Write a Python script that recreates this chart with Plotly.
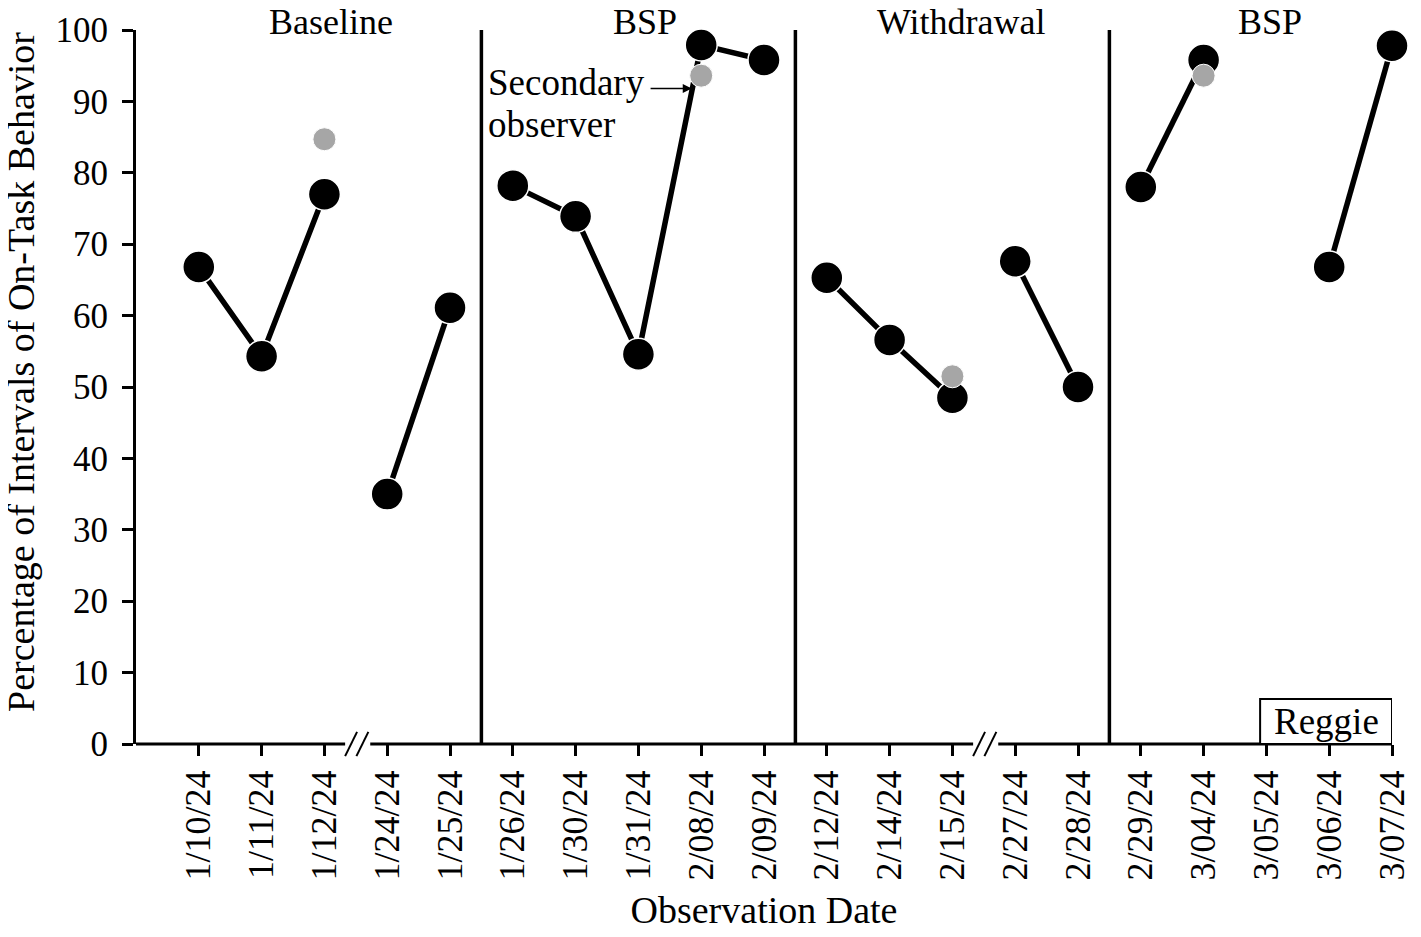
import plotly.graph_objects as go

# observation dates (categorical positions 1..20)
dates = ["1/10/24", "1/11/24", "1/12/24", "1/24/24", "1/25/24",
         "1/26/24", "1/30/24", "1/31/24", "2/08/24", "2/09/24",
         "2/12/24", "2/14/24", "2/15/24", "2/27/24", "2/28/24",
         "2/29/24", "3/04/24", "3/05/24", "3/06/24", "3/07/24"]
on_task = [66.8, 54.3, 77.0, 35.0, 61.1,
           78.2, 73.9, 54.6, 97.9, 95.8,
           65.3, 56.6, 48.5, 67.6, 50.0,
           78.0, 95.8, None, 66.8, 97.8]
secondary = [None, None, 84.7, None, None,
             None, None, None, 93.6, None,
             None, None, 51.5, None, None,
             None, 93.6, None, None, None]
# connected runs of data points
segments = [1, 1, 1, 2, 2,
            3, 3, 3, 3, 3,
            4, 4, 4, 5, 5,
            6, 6, 7, 7, 7]

phases = ["Baseline", "BSP", "Withdrawal", "BSP"]
phase_label_x = [3.1, 8.1, 13.15, 18.05]
phase_changes = [5.5, 10.5, 15.5]
axis_breaks = [3.5, 13.5]

FONT = "Liberation Serif, Times New Roman, serif"
pos = list(range(1, len(dates) + 1))
X_MAX = 20

fig = go.Figure()

# line segments
for s in sorted(set(segments)):
    xs = [p for p, g, v in zip(pos, segments, on_task) if g == s and v is not None]
    ys = [v for g, v in zip(segments, on_task) if g == s and v is not None]
    fig.add_trace(go.Scatter(x=xs, y=ys, mode="lines",
                             line=dict(color="black", width=5.5),
                             showlegend=False, hoverinfo="skip"))

fig.add_trace(go.Scatter(
    x=pos, y=on_task, mode="markers",
    marker=dict(color="black", size=32, line=dict(color="white", width=1.5)),
    showlegend=False, cliponaxis=False))

fig.add_trace(go.Scatter(
    x=pos, y=secondary, mode="markers",
    marker=dict(color="#a6a6a6", size=23, line=dict(color="white", width=1)),
    showlegend=False, cliponaxis=False))

# phase change lines
for xc in phase_changes:
    fig.add_shape(type="line", x0=xc, x1=xc, y0=0, y1=100,
                  xref="x", yref="y", line=dict(color="black", width=3.5))

# x axis line with breaks
edges = [0] + [v for b in axis_breaks for v in (b - 0.17, b + 0.23)] + [X_MAX]
for a, b in zip(edges[::2], edges[1::2]):
    fig.add_shape(type="line", x0=a / X_MAX, x1=b / X_MAX, y0=0, y1=0,
                  xref="paper", yref="paper", line=dict(color="black", width=3))
for b in axis_breaks:
    for off in (-0.12, 0.06):
        fig.add_shape(type="line", x0=(b + off - 0.05) / X_MAX, x1=(b + off + 0.14) / X_MAX,
                      y0=-0.017, y1=0.017, xref="paper", yref="paper",
                      line=dict(color="black", width=2))

# phase labels
for name, xl in zip(phases, phase_label_x):
    fig.add_annotation(x=xl, y=1.0, xref="x", yref="paper", yanchor="bottom",
                       text=name, showarrow=False, yshift=-14,
                       font=dict(family=FONT, size=36, color="black"))

# y axis title
fig.add_annotation(x=0, y=0.5, xref="paper", yref="paper", xanchor="center",
                   yanchor="middle", xshift=-115, yshift=15,
                   text="Percentage of Intervals of On-Task Behavior", textangle=-90,
                   showarrow=False, font=dict(family=FONT, size=38, color="black"))

# secondary observer note
fig.add_annotation(x=5.58, y=92.6, xref="x", yref="y", xanchor="left",
                   text="Secondary", showarrow=False,
                   font=dict(family=FONT, size=37, color="black"))
fig.add_annotation(x=5.58, y=86.8, xref="x", yref="y", xanchor="left",
                   text="observer", showarrow=False,
                   font=dict(family=FONT, size=37, color="black"))
fig.add_annotation(x=8.85, y=91.8, ax=8.17, ay=91.8, xref="x", yref="y",
                   axref="x", ayref="y", text="", showarrow=True,
                   arrowhead=2, arrowsize=1.2, arrowwidth=1.5, arrowcolor="black")

# participant label
fig.add_shape(type="rect", x0=17.9, x1=X_MAX, y0=0, y1=6.3, xref="x", yref="y",
              line=dict(color="black", width=2), fillcolor="white", layer="above")
fig.add_annotation(x=18.95, y=3.1, xref="x", yref="y",
                   text="Reggie", showarrow=False,
                   font=dict(family=FONT, size=37, color="black"))

fig.update_layout(
    width=1413, height=929,
    margin=dict(l=128, r=29, t=22, b=193),
    paper_bgcolor="white", plot_bgcolor="white",
    font=dict(family=FONT, size=36, color="black"),
    xaxis=dict(range=[0, X_MAX], tickvals=pos, ticktext=dates, tickangle=-90,
               ticks="outside", ticklen=11, tickwidth=3, tickcolor="black",
               showline=False, showgrid=False, zeroline=False, automargin=False,
               title=dict(text="Observation Date", font=dict(size=38), standoff=16)),
    yaxis=dict(range=[0, 100], dtick=10, ticks="outside", ticklen=11, tickwidth=3,
               tickcolor="black", showline=True, linecolor="black", linewidth=3,
               showgrid=False, zeroline=False, ticklabelstandoff=7, automargin=False,
               tickfont=dict(size=35)),
)

fig.write_html("out.html")
